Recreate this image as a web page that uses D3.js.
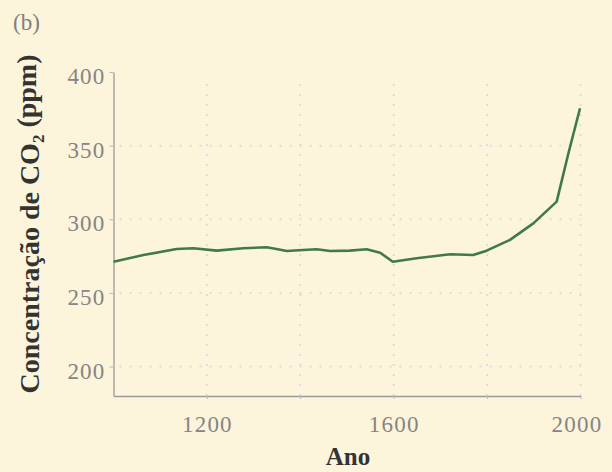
<!DOCTYPE html>
<html>
<head>
<meta charset="utf-8">
<script src="https://cdn.jsdelivr.net/npm/d3@7"></script>
<style>
  html, body { margin: 0; padding: 0; background: #fdf4dc; }
  svg { display: block; }
</style>
</head>
<body>
<svg id="chart" width="612" height="472"></svg>
<script>
// Atmospheric CO2 concentration, years 1000–2000
const years = [1000, 1064, 1135, 1171, 1221, 1278, 1328, 1349, 1371, 1406, 1435, 1464, 1506, 1542, 1571, 1598, 1649, 1721, 1770, 1799, 1849, 1899, 1949, 1974, 1999];
const co2   = [271.2, 275.7, 279.8, 280.3, 278.7, 280.3, 281.0, 279.8, 278.5, 279.1, 279.6, 278.5, 278.7, 279.6, 277.3, 271.2, 273.5, 276.2, 275.7, 278.7, 286.0, 297.2, 312.0, 344.7, 375.4];

const xTicks = [1200, 1400, 1600, 1800, 2000];
const xTickLabels = ["1200", "", "1600", "", "2000"];
const yTicks = [200, 250, 300, 350, 400];

const panelLabel = "(b)";
const xTitle = "Ano";

const svg = d3.select("#chart");
const serif = "'Liberation Serif', 'DejaVu Serif', serif";

const x = d3.scaleLinear().domain([1000, 2000]).range([113.5, 580.5]);
const y = d3.scaleLinear().domain([180, 400]).range([396, 72]);

// dotted grid
const grid = svg.append("g")
  .attr("stroke", "#d8dde0")
  .attr("stroke-width", 2)
  .attr("stroke-dasharray", "2,8")
  .attr("fill", "none");
grid.selectAll("line.h").data(yTicks.filter(d => d < 400)).join("line")
  .attr("class", "h")
  .attr("x1", x(1000) + 6).attr("x2", x(2000))
  .attr("y1", d => y(d)).attr("y2", d => y(d));
grid.selectAll("line.v").data(xTicks).join("line")
  .attr("class", "v")
  .attr("x1", d => x(d)).attr("x2", d => x(d))
  .attr("y1", y(180)).attr("y2", 80);

// axes
const xAxis = d3.axisBottom(x)
  .tickValues(xTicks)
  .tickFormat((d, i) => xTickLabels[i])
  .tickSize(3)
  .tickSizeOuter(0)
  .tickPadding(17);
const gx = svg.append("g").attr("transform", `translate(0,${y(180)})`).call(xAxis);

const yAxis = d3.axisLeft(y)
  .tickValues(yTicks)
  .tickSize(4)
  .tickSizeOuter(0)
  .tickPadding(4);
const gy = svg.append("g").attr("transform", `translate(${x(1000)},0)`).call(yAxis);

[gx, gy].forEach(g => {
  g.select(".domain").attr("stroke", "#9a9a9a").attr("stroke-width", 1.3);
  g.selectAll(".tick line").attr("stroke", "#b8b8b8");
  g.selectAll(".tick text")
    .attr("fill", "#858585")
    .style("font-family", serif)
    .style("font-size", "23px")
    .style("letter-spacing", "1.2px");
});
gy.selectAll(".tick text").attr("dy", "0.5em");
gx.select(".tick:last-of-type text").attr("dx", "-4");

// CO2 curve
const line = d3.line()
  .x((d, i) => x(years[i]))
  .y(d => y(d))
  .curve(d3.curveLinear);
svg.append("path")
  .datum(co2)
  .attr("d", line)
  .attr("fill", "none")
  .attr("stroke", "#3f7a47")
  .attr("stroke-width", 2.6)
  .attr("stroke-linejoin", "round");

// panel label
svg.append("text")
  .attr("x", 13).attr("y", 30)
  .attr("fill", "#808080")
  .style("font-family", serif)
  .style("font-size", "23px")
  .text(panelLabel);

// axis titles
svg.append("text")
  .attr("x", 348).attr("y", 465)
  .attr("text-anchor", "middle")
  .attr("fill", "#333")
  .style("font-family", serif)
  .style("font-size", "25px")
  .style("font-weight", "bold")
  .text(xTitle);

const yt = svg.append("text")
  .attr("transform", "translate(39,224) rotate(-90)")
  .attr("text-anchor", "middle")
  .attr("fill", "#333")
  .style("font-family", serif)
  .style("font-size", "28px")
  .style("font-weight", "bold");
yt.append("tspan").text("Concentração de CO");
yt.append("tspan").attr("dy", "0.3em").style("font-size", "17px").text("2");
yt.append("tspan").attr("dy", "-0.3em").text(" (ppm)");
</script>
</body>
</html>
